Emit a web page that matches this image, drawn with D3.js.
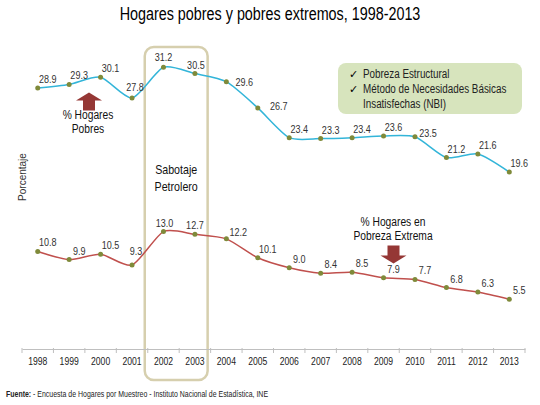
<!DOCTYPE html>
<html lang="es">
<head>
<meta charset="UTF-8">
<title>Hogares pobres</title>
<style>
	body { margin: 0; background: #fff; }
	svg text { font-family: "Liberation Sans", Arial, sans-serif; }
</style>
</head>
<body>
<svg id="chart" width="540" height="405"></svg>
<script src="https://cdn.jsdelivr.net/npm/d3@7"></script>
<script>
	// datos
	let years = ["1998","1999","2000","2001","2002","2003","2004","2005","2006","2007","2008","2009","2010","2011","2012","2013"];
	let pobres = [28.9, 29.3, 30.1, 27.8, 31.2, 30.5, 29.6, 26.7, 23.4, 23.3, 23.4, 23.6, 23.5, 21.2, 21.6, 19.6];
	let extremos = [10.8, 9.9, 10.5, 9.3, 13.0, 12.7, 12.2, 10.1, 9.0, 8.4, 8.5, 7.9, 7.7, 6.8, 6.3, 5.5];
	let sabotaje = ["2002", "2003"];
	let legendItems = ["Pobreza Estructural", "Método de Necesidades Básicas", "Insatisfechas (NBI)"];

	// ajustes de etiquetas (solo estilo)
	let offPobres = {"2001":[3,-7], "2002":[0,-6], "2003":[1,-5], "2004":[18,4], "2005":[21,2], "2010":[13,0]};
	let offExtremos = {"2001":[4,-10], "2002":[1,-5], "2003":[0,-5], "2004":[12,-3]};

	let svg = d3.select("#chart");

	let x = d3.scaleBand()
		.domain(years)
		.range([22, 525])
		.padding(0);
	let y = d3.scaleLinear()
		.domain([0, 35])
		.range([349, 349 - 35 * 9.03]);

	let cx = d => x(d) + x.bandwidth() / 2;

	// letra estrecha (como Arial Narrow)
	function narrow(sel) {
		sel.each(function() {
			let w = this.getComputedTextLength();
			d3.select(this)
				.attr("textLength", w * 0.82)
				.attr("lengthAdjust", "spacingAndGlyphs");
		});
		return sel;
	}

	// titulo
	svg.append("text")
		.attr("class", "nr")
		.attr("x", 270).attr("y", 20)
		.attr("text-anchor", "middle")
		.attr("font-size", 17.5)
		.attr("fill", "#000")
		.text("Hogares pobres y pobres extremos, 1998-2013");

	// recuadro sabotaje
	let bx = x(sabotaje[0]) - 3;
	svg.append("rect")
		.attr("x", bx)
		.attr("y", 47)
		.attr("width", x.bandwidth() * 2)
		.attr("height", 333)
		.attr("rx", 9)
		.attr("fill", "none")
		.attr("stroke", "#d6cfae")
		.attr("stroke-width", 2.5);

	svg.selectAll(".sab")
		.data(["Sabotaje", "Petrolero"])
		.join("text")
		.attr("class", "sab nr")
		.attr("x", bx + x.bandwidth())
		.attr("y", (d, i) => 174 + i * 17)
		.attr("text-anchor", "middle")
		.attr("font-size", 13)
		.attr("fill", "#111")
		.text(d => d);

	// eje x
	let xaxis = d3.axisBottom(x).tickSize(0).tickPadding(9);
	let gx = svg.append("g")
		.attr("transform", "translate(0,349)")
		.call(xaxis);
	gx.select(".domain").attr("stroke", "#bfbfbf");
	gx.selectAll(".tick text")
		.attr("class", "nr")
		.attr("font-size", 10.5)
		.attr("fill", "#222")
		.style("font-family", "'Liberation Sans', Arial, sans-serif");
	gx.selectAll(".sep")
		.data(years.concat(["end"]))
		.join("line")
		.attr("class", "sep")
		.attr("x1", d => d == "end" ? x.range()[1] : x(d))
		.attr("x2", d => d == "end" ? x.range()[1] : x(d))
		.attr("y1", -1).attr("y2", 4)
		.attr("stroke", "#bfbfbf");

	// titulo eje y
	svg.append("text")
		.attr("transform", "translate(26,177) rotate(-90)")
		.attr("text-anchor", "middle")
		.attr("font-size", 10)
		.attr("fill", "#333")
		.text("Porcentaje");

	function drawSeries(values, color, offsets) {
		let pts = values.map((v, i) => ({year: years[i], v: v}));
		let line = d3.line()
			.x(d => cx(d.year))
			.y(d => y(d.v))
			.curve(d3.curveCardinal.tension(0.3));
		svg.append("path")
			.datum(pts)
			.attr("d", line)
			.attr("fill", "none")
			.attr("stroke", color)
			.attr("stroke-width", 1.5);
		svg.append("g").selectAll("circle")
			.data(pts)
			.join("circle")
			.attr("cx", d => cx(d.year))
			.attr("cy", d => y(d.v))
			.attr("r", 2.5)
			.attr("fill", "#7f8a3a");
		svg.append("g").selectAll("text")
			.data(pts)
			.join("text")
			.attr("class", "nr")
			.attr("x", d => cx(d.year) + (offsets[d.year] ? offsets[d.year][0] : 10))
			.attr("y", d => y(d.v) + (offsets[d.year] ? offsets[d.year][1] : -5))
			.attr("text-anchor", "middle")
			.attr("font-size", 11)
			.attr("fill", "#333")
			.text(d => d.v.toFixed(1));
	}

	drawSeries(pobres, "#33b5d9", offPobres);
	drawSeries(extremos, "#c0504d", offExtremos);

	// leyenda
	let lg = svg.append("g");
	lg.append("rect")
		.attr("x", 338).attr("y", 63)
		.attr("width", 184).attr("height", 51)
		.attr("rx", 8)
		.attr("fill", "#d7e4bd");
	lg.selectAll(".chk")
		.data(legendItems.slice(0, 2))
		.join("text")
		.attr("class", "chk")
		.attr("x", 349)
		.attr("y", (d, i) => 78 + i * 15)
		.attr("font-size", 11)
		.attr("fill", "#000")
		.style("font-family", "'DejaVu Sans', sans-serif")
		.text("✓");
	lg.selectAll(".lt")
		.data(legendItems)
		.join("text")
		.attr("class", "lt nr")
		.attr("x", 363)
		.attr("y", (d, i) => 78 + i * 15)
		.attr("font-size", 12)
		.attr("fill", "#222")
		.text(d => d);

	// flechas
	let arrowColor = "#953735";
	function arrow(xc, ytop, up) {
		let h = 18, hw = 13, sw = 6, hh = 8;
		let p;
		if (up) {
			p = [[xc, ytop], [xc + hw, ytop + hh], [xc + sw, ytop + hh], [xc + sw, ytop + h],
				[xc - sw, ytop + h], [xc - sw, ytop + hh], [xc - hw, ytop + hh]];
		} else {
			p = [[xc - sw, ytop], [xc + sw, ytop], [xc + sw, ytop + h - hh], [xc + hw, ytop + h - hh],
				[xc, ytop + h], [xc - hw, ytop + h - hh], [xc - sw, ytop + h - hh]];
		}
		svg.append("path")
			.attr("d", "M" + p.join("L") + "Z")
			.attr("fill", arrowColor);
	}
	arrow(89, 92.5, true);
	arrow(393.5, 245.5, false);

	function noteText(xc, y0, lines) {
		svg.append("g").selectAll("text")
			.data(lines)
			.join("text")
			.attr("class", "nr")
			.attr("text-anchor", "middle")
			.attr("font-size", 12.5)
			.attr("fill", "#111")
			.attr("x", xc)
			.attr("y", (d, i) => y0 + i * 14)
			.text(d => d);
	}
	noteText(88, 119, ["% Hogares", "Pobres"]);
	noteText(393, 226, ["% Hogares en", "Pobreza Extrema"]);

	narrow(svg.selectAll(".nr"));

	// fuente (un solo texto, comprimido con escala)
	let f = svg.append("text")
		.attr("transform", "translate(6,397) scale(0.82,1)")
		.attr("font-size", 8.5)
		.attr("fill", "#222");
	f.append("tspan").attr("font-weight", "bold").text("Fuente:");
	f.append("tspan").text(" - Encuesta de Hogares por Muestreo  - Instituto Nacional de Estadística, INE");
</script>
</body>
</html>
